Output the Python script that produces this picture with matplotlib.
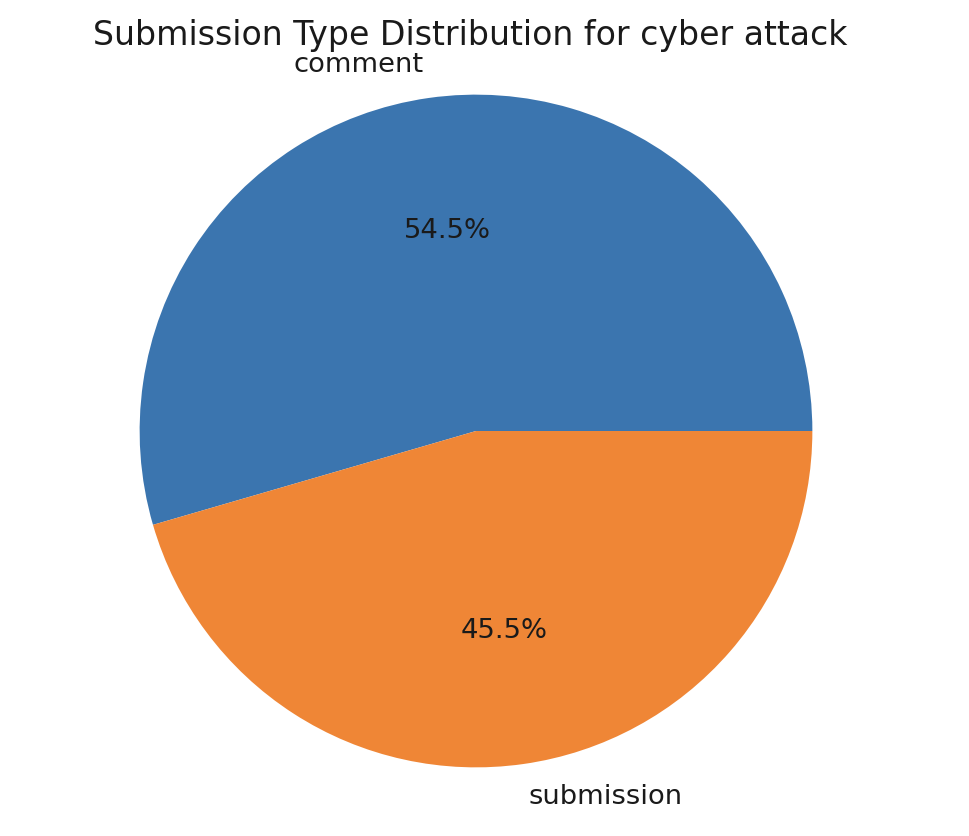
import matplotlib
matplotlib.use('Agg')
import matplotlib.pyplot as plt

### submission type split for cyber attack
labels = ['comment', 'submission']
shares = [54.5, 45.5]
colors = ['#3b75af', '#ef8636']

fig = plt.figure(figsize=(9.7, 8.36), dpi=100)
# square axes box, pie centre at about (476, 431) px
ax = fig.add_axes([106 / 970, 35 / 836, 740 / 970, 740 / 836])

ax.pie(shares, labels=labels, colors=colors, autopct='%1.1f%%',
       startangle=0, textprops={'fontsize': 19.7, 'color': '#1a1a1a'})
ax.set_xlim(-1.1, 1.1)
ax.set_ylim(-1.1, 1.1)
ax.set_title('Submission Type Distribution for cyber attack', fontsize=23.9,
             pad=11.8, x=0.4926, color='#1a1a1a')

fig.savefig('out.png', dpi=100)
